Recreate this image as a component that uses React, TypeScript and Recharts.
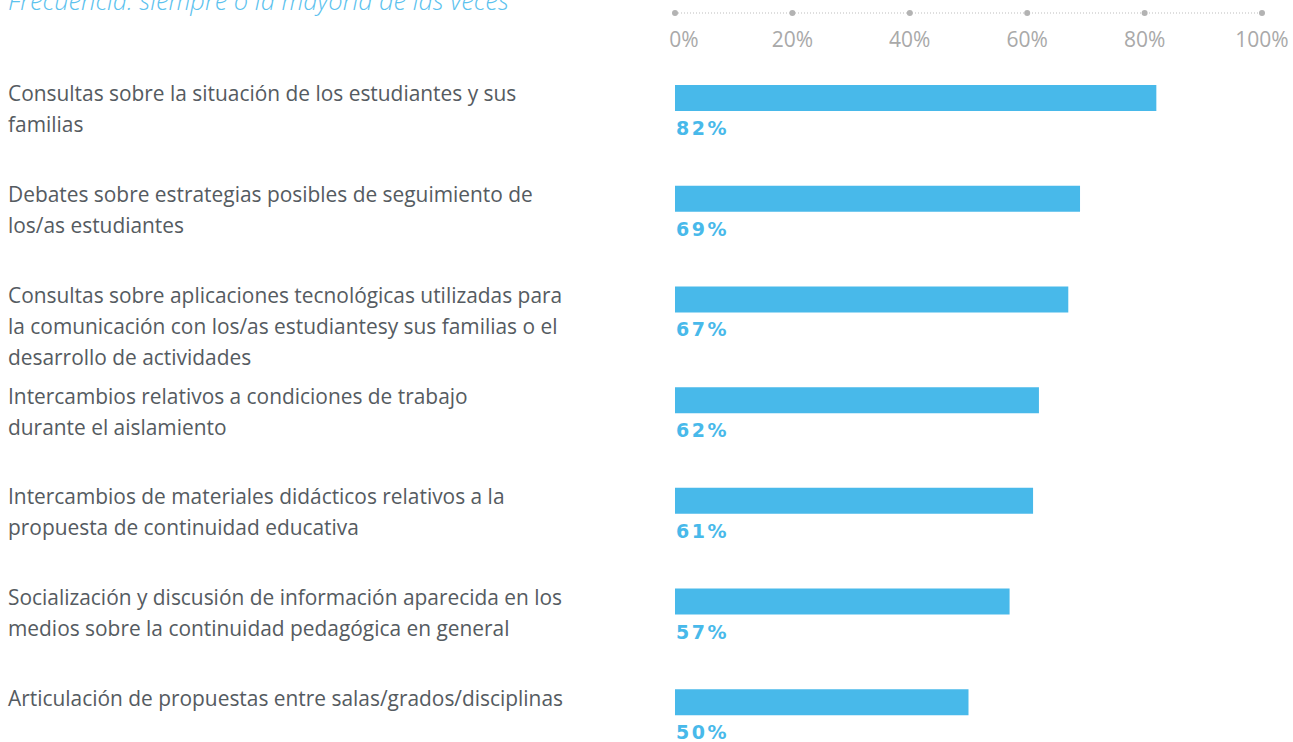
import React from "react";
import { BarChart, Bar, XAxis, YAxis, LabelList } from "recharts";

// categorías (con los saltos de línea del original)
const categories = [
    "Consultas sobre la situación de los estudiantes y sus\nfamilias",
    "Debates sobre estrategias posibles de seguimiento de\nlos/as estudiantes",
    "Consultas sobre aplicaciones tecnológicas utilizadas para\nla comunicación con los/as estudiantesy sus familias o el\ndesarrollo de actividades",
    "Intercambios relativos a condiciones de trabajo\ndurante el aislamiento",
    "Intercambios de materiales didácticos relativos a la\npropuesta de continuidad educativa",
    "Socialización y discusión de información aparecida en los\nmedios sobre la continuidad pedagógica en general",
    "Articulación de propuestas entre salas/grados/disciplinas",
];

const values = [82, 69, 67, 62, 61, 57, 50];

const ticks = [0, 20, 40, 60, 80, 100];

const title = "Frecuencia: siempre o la mayoría de las veces";

const data = categories.map((name, i) => ({ name, value: values[i] }));

const BLUE = "#48b9ea";
const AXIS_Y = 13;

const CategoryTick = (props: any) => {
    const { y, payload } = props;
    const lines = String(payload.value).split("\n");
    return (
        <text
            x={8}
            y={y + 3}
            fill="#555b61"
            fontSize={20.9}
            fontFamily="'Open Sans', sans-serif"
            textAnchor="start"
        >
            {lines.map((line, i) => (
                <tspan key={i} x={8} dy={i === 0 ? 0 : 31}>
                    {line}
                </tspan>
            ))}
        </text>
    );
};

const renderPercentTick = (props: any) => {
    const { x, payload, index } = props;
    return (
        <g key={`tick-${index}`}>
            <circle cx={x} cy={AXIS_Y} r={3} fill="#b3b3b3" />
            <text
                x={index === 0 ? x + 9 : x}
                y={AXIS_Y + 34}
                fill="#a9a9a9"
                fontSize={21}
                fontWeight={500}
                fontFamily="'Open Sans', sans-serif"
                textAnchor="middle"
            >
                {payload.value}%
            </text>
        </g>
    );
};

const ValueLabel = (props: any) => {
    const { x, y, height, value } = props;
    return (
        <text
            x={x + 1}
            y={y + height + 24}
            fill={BLUE}
            fontSize={19}
            fontWeight={700}
            letterSpacing={2.5}
            fontFamily="'DejaVu Sans', sans-serif"
        >
            {value}%
        </text>
    );
};

export default function App() {
    return (
        <div
            style={{
                position: "absolute",
                left: 0,
                top: 0,
                width: 1293,
                height: 742,
                overflow: "hidden",
                background: "#fff",
            }}
        >
            <div
                style={{
                    position: "absolute",
                    left: 8,
                    top: -12,
                    fontFamily: "'Open Sans', sans-serif",
                    fontStyle: "italic",
                    fontWeight: 300,
                    fontSize: 25.5,
                    lineHeight: "25px",
                    color: "#5cc2ee",
                    whiteSpace: "nowrap",
                }}
            >
                {title}
            </div>
            <BarChart
                width={1293}
                height={770}
                data={data}
                layout="vertical"
                margin={{ top: 0, right: 28, bottom: 17, left: 0 }}
            >
                <XAxis
                    type="number"
                    orientation="top"
                    domain={[0, 100]}
                    ticks={ticks}
                    height={AXIS_Y}
                    padding={{ left: 0, right: 3 }}
                    axisLine={{ stroke: "#bdbdbd", strokeDasharray: "1 2" }}
                    tickLine={false}
                    tick={renderPercentTick}
                    interval={0}
                />
                <YAxis
                    type="category"
                    dataKey="name"
                    width={675}
                    axisLine={false}
                    tickLine={false}
                    tick={<CategoryTick />}
                    interval={0}
                    padding={{ top: 35, bottom: 0 }}
                />
                <Bar
                    dataKey="value"
                    fill={BLUE}
                    barSize={26}
                    isAnimationActive={false}
                >
                    <LabelList dataKey="value" content={<ValueLabel />} />
                </Bar>
            </BarChart>
        </div>
    );
}
